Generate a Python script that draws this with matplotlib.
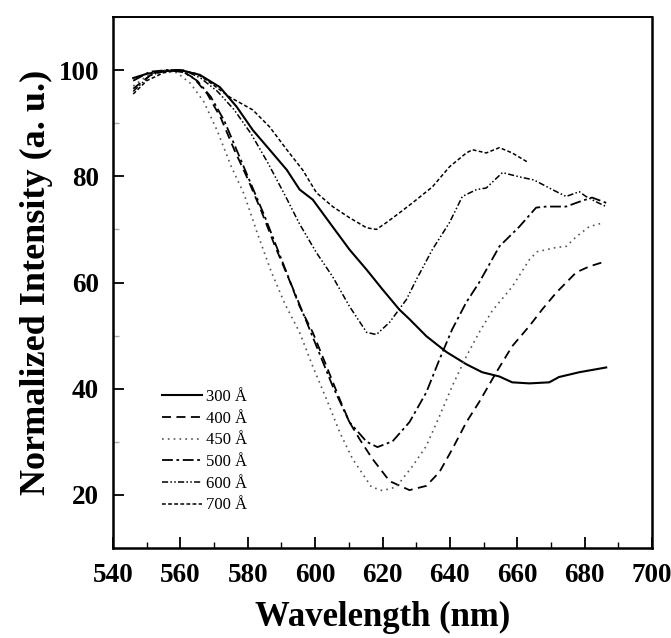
import matplotlib
matplotlib.use("Agg")
import matplotlib.pyplot as plt
from matplotlib.ticker import MultipleLocator

plt.rcParams["font.family"] = ["Liberation Serif", "DejaVu Serif"]

# thickness (Angstrom) -> (wavelength nm, normalized intensity)
wl_300 = [546, 550, 555, 560, 565.8, 571.7, 576.7, 581.5, 586.5, 591.6, 595.4, 599.3,
          605.2, 610.2, 615.3, 620.0, 625.0, 628.0, 633.0, 639.0, 644.9, 649.6, 654.7,
          658.5, 663.6, 669.5, 672.4, 678.4, 686.4]
int_300 = [98.5, 99.3, 99.8, 100, 99.1, 96.8, 93.1, 88.7, 85.0, 81.2, 77.5, 75.6,
           70.5, 66.2, 62.4, 58.7, 54.9, 53.1, 49.9, 46.9, 44.6, 43.1, 42.3,
           41.2, 41.0, 41.2, 42.2, 43.1, 44.0]

wl_400 = [546, 551, 556, 560, 564, 568, 572, 576, 580, 584, 588, 592, 595.4, 599.3,
          603.4, 607.3, 610.2, 613.2, 617.0, 622.1, 628.0, 633.0, 636.9, 640.7, 644.9,
          648.7, 653.8, 658.5, 663.6, 667.5, 671.6, 677.5, 681.3, 685.8]
int_400 = [96.5, 99, 100, 100, 98.5, 95.5, 91, 85, 79.5, 73.5, 67, 61, 55.5, 50.6,
           44.2, 38.0, 33.7, 30.5, 26.8, 22.6, 20.9, 21.7, 24.3, 28.6, 33.7,
           37.5, 43.1, 48.0, 51.8, 55.0, 58.1, 61.9, 63.0, 63.9]

wl_450 = [546, 551, 555, 559, 563, 567, 571, 575, 579, 583, 587, 591, 595.4, 599.3,
          603.4, 607.3, 611.1, 616.7, 620.0, 624.1, 628.9, 633.0, 636.9, 640.7, 644.9,
          648.7, 652.6, 658.5, 663.6, 665.9, 671.6, 674.5, 677.5, 681.3, 685.8]
int_450 = [97, 99.3, 100, 99.5, 97.5, 94, 88.5, 82, 76.5, 69, 62, 56, 50.6, 44.2,
           38.0, 31.8, 26.8, 21.5, 20.8, 21.5, 25.4, 29.2, 34.8, 40.5, 46.1,
           50.6, 54.7, 59.2, 64.3, 65.8, 66.6, 66.8, 68.6, 70.5, 71.3]

wl_500 = [546, 551, 556, 561, 565, 569, 573, 577, 581, 585, 589, 593, 596.3, 600.4,
          605.2, 610.2, 615.3, 618.5, 623.0, 628.0, 633.0, 636.9, 640.7, 644.9, 648.7,
          654.7, 660.6, 665.6, 668.6, 674.5, 678.4, 682.2, 686.4]
int_500 = [98, 99.7, 100, 99.6, 98, 95, 90.5, 84.5, 78.5, 72.5, 66, 59.5, 54.4, 48.0,
           40.5, 33.7, 30.0, 29.0, 30.1, 33.7, 39.3, 45.5, 51.2, 56.3, 60.0,
           66.8, 70.5, 74.1, 74.3, 74.3, 75.2, 76.0, 75.0]

wl_600 = [546, 551, 556, 561, 566, 571, 576, 581, 586, 591, 595.4, 600.4, 605.2,
          610.2, 615.3, 618.2, 622.1, 627.1, 630.1, 634.8, 639.9, 643.7, 647.9, 650.8,
          655.6, 660.6, 665.0, 670.4, 674.5, 678.4, 680.4, 683.4, 686.4]
int_600 = [96, 99, 100, 100, 98.5, 96, 92.5, 88, 82.5, 76.5, 71, 65.6, 61.1,
           55.5, 50.6, 50.2, 52.5, 56.8, 60.6, 66.2, 71.3, 76.2, 77.5, 77.8,
           80.7, 79.9, 79.3, 77.5, 76.2, 77.1, 76.2, 75.2, 74.3]

wl_700 = [546, 550, 555, 560, 564.9, 568.7, 574.7, 581.5, 586.5, 591.6, 596.3, 600.4,
          605.2, 610.2, 615.3, 618.2, 621.2, 625.0, 628.9, 634.8, 639.9, 644.9, 646.7,
          650.8, 654.7, 658.5, 663.0]
int_700 = [95.5, 98, 99.5, 100, 99.3, 97.7, 94.9, 92.5, 89.3, 85.0, 81.2, 76.9,
           74.3, 72.2, 70.3, 70.0, 71.3, 73.1, 75.0, 78.0, 81.8, 84.4, 85.0,
           84.4, 85.4, 84.4, 82.7]

labels = ["300 Å", "400 Å", "450 Å", "500 Å", "600 Å", "700 Å"]

fig = plt.figure(figsize=(6.71, 6.38), dpi=100)
ax = fig.add_axes([113 / 671, 1 - 548 / 638, 539 / 671, 531 / 638])

ax.plot(wl_300, int_300, color="black", lw=1.5, ls="-", label=labels[0])
ax.plot(wl_400, int_400, color="black", lw=1.3, ls=(0, (5, 3)), label=labels[1])
ax.plot(wl_450, int_450, color="#555555", lw=1.2, ls=(0, (1, 2.5)), label=labels[2])
ax.plot(wl_500, int_500, color="black", lw=1.3, ls=(0, (6, 2, 1.5, 2)), label=labels[3])
ax.plot(wl_600, int_600, color="black", lw=1.1, ls=(0, (4, 1.5, 1, 1.5, 1, 1.5)), label=labels[4])
ax.plot(wl_700, int_700, color="black", lw=1.1, ls=(0, (2.5, 1.5)), label=labels[5])

ax.set_xlim(540, 700)
ax.set_ylim(10, 110)
ax.xaxis.set_major_locator(MultipleLocator(20))
ax.xaxis.set_minor_locator(MultipleLocator(10))
ax.set_yticks([20, 40, 60, 80, 100])
ax.yaxis.set_minor_locator(MultipleLocator(10))

ax.tick_params(which="major", direction="in", length=8, width=1.3, labelsize=19.5, pad=11)
ax.tick_params(which="minor", direction="in", length=4, width=1.0)
ax.tick_params(axis="y", which="minor", color="#aaaaaa")
ax.tick_params(axis="y", which="major", pad=10)
for lab in ax.get_xticklabels() + ax.get_yticklabels():
    lab.set_fontweight("bold")

for side in ["left", "bottom", "right"]:
    ax.spines[side].set_linewidth(1.8)
ax.spines["top"].set_linewidth(1.4)

ax.set_xlabel("Wavelength (nm)", fontsize=25, fontweight="bold", labelpad=9)
ax.set_ylabel("Normalized Intensity (a. u.)", fontsize=26, fontweight="bold", labelpad=4)

ax.legend(loc="upper left", bbox_to_anchor=(0.075, 0.315), frameon=False,
          fontsize=12, handlelength=2.4, handletextpad=0.25, labelspacing=0.34,
          borderpad=0)

fig.savefig("out.png", dpi=100)
